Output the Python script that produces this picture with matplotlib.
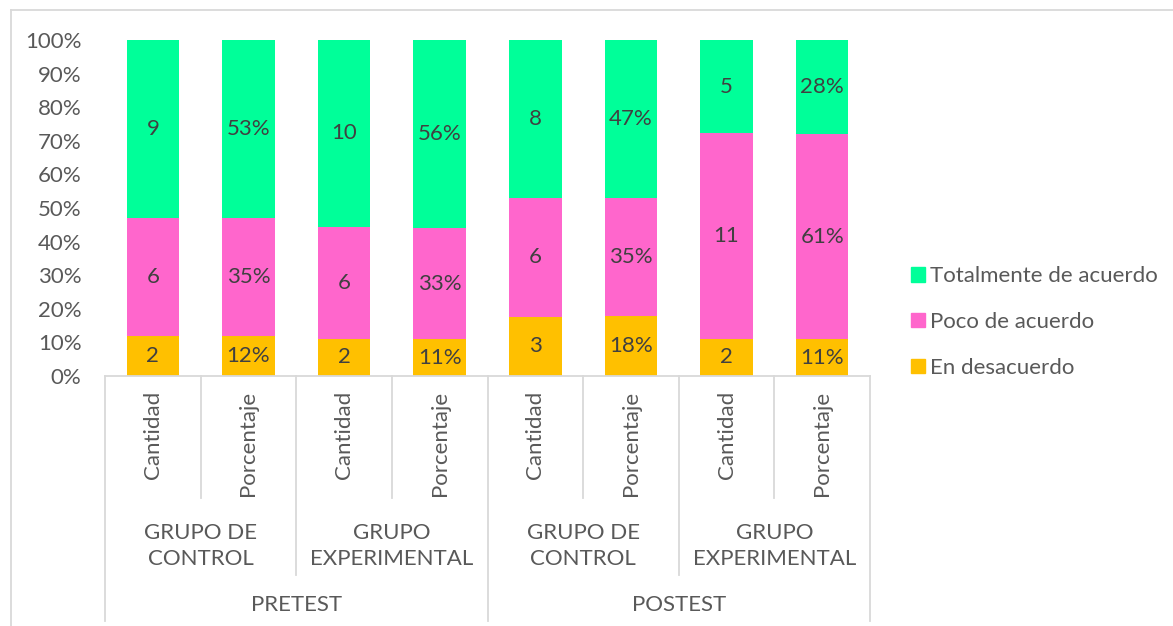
import matplotlib
matplotlib.use("Agg")
import matplotlib.pyplot as plt
from matplotlib.transforms import blended_transform_factory
from matplotlib.patches import Patch

# ---- data ----
leaf_labels = ["Cantidad", "Porcentaje"] * 4
group_labels = ["GRUPO DE\nCONTROL", "GRUPO\nEXPERIMENTAL", "GRUPO DE\nCONTROL", "GRUPO\nEXPERIMENTAL"]
phase_labels = ["PRETEST", "POSTEST"]
series_names = ["En desacuerdo", "Poco de acuerdo", "Totalmente de acuerdo"]
desacuerdo = [2, 12, 2, 11, 3, 18, 2, 11]
poco = [6, 35, 6, 33, 6, 35, 11, 61]
totalmente = [9, 53, 10, 56, 8, 47, 5, 28]
is_pct = [False, True] * 4

colors = ["#FFC000", "#FF66CC", "#00FF99"]
text_c = "#595959"
line_c = "#D9D9D9"
fs = 16

plt.rcParams["font.family"] = ["Lato", "DejaVu Sans"]

W, H = 1173, 626
fig = plt.figure(figsize=(W / 100, H / 100), dpi=100)
x0, x1, y0, y1 = 105, 870, 376, 40
ax = fig.add_axes([x0 / W, 1 - y0 / H, (x1 - x0) / W, (y0 - y1) / H])
ph = y0 - y1  # axes height in px

series = [desacuerdo, poco, totalmente]
n = len(leaf_labels)
xs = list(range(n))
bottoms = [0.0] * n
for vals, col, name in zip(series, colors, series_names):
    fr = []
    for i in range(n):
        tot = desacuerdo[i] + poco[i] + totalmente[i]
        fr.append(vals[i] / tot)
    ax.bar(xs, fr, width=0.55, bottom=bottoms, color=col, edgecolor="none", label=name)
    for i in range(n):
        lab = f"{vals[i]}%" if is_pct[i] else f"{vals[i]}"
        ax.text(xs[i], bottoms[i] + fr[i] / 2, lab, ha="center", va="center",
                fontsize=fs, color="#404040")
    bottoms = [b + f for b, f in zip(bottoms, fr)]

ax.set_xlim(-0.5, n - 0.5)
ax.set_ylim(0, 1)
ax.set_yticks([i / 10 for i in range(11)])
ax.set_yticklabels([f"{i * 10}%" for i in range(11)])
ax.tick_params(axis="y", length=0, pad=17, labelsize=fs, labelcolor=text_c)
ax.set_xticks([])
for s in ["top", "right", "left"]:
    ax.spines[s].set_visible(False)
ax.spines["bottom"].set_color(line_c)
ax.spines["bottom"].set_linewidth(1.3)

tr = blended_transform_factory(ax.transData, ax.transAxes)

def ypx(p):
    return -(p - y0) / ph

# separators
for k in range(n + 1):
    xb = k - 0.5
    if k % 4 == 0:
        bot = 621
    elif k % 2 == 0:
        bot = 575
    else:
        bot = 498
    ax.plot([xb, xb], [0, ypx(bot)], color=line_c, lw=1.3, transform=tr, clip_on=False)

for i, lab in enumerate(leaf_labels):
    ax.text(i, ypx(391), lab, rotation=90, ha="center", va="top", fontsize=fs,
            color=text_c, transform=tr)
for g, lab in enumerate(group_labels):
    ax.text(2 * g + 0.5, ypx(546), lab, ha="center", va="center", fontsize=fs,
            color=text_c, linespacing=1.35, transform=tr)
for p, lab in enumerate(phase_labels):
    ax.text(4 * p + 1.5, ypx(605), lab, ha="center", va="center", fontsize=fs,
            color=text_c, transform=tr)

handles = [Patch(color=c, label=l) for c, l in zip(colors[::-1], series_names[::-1])]
fig.legend(handles=handles, loc="center left", bbox_to_anchor=(900 / W, 1 - 322 / H),
           frameon=False, fontsize=fs, labelcolor=text_c, handlelength=0.62,
           handleheight=0.62, handletextpad=0.25, labelspacing=1.15, borderpad=0)

# outer frame
fig.add_artist(plt.Line2D([11 / W, 11 / W], [0, 1 - 10 / H], color=line_c, lw=1.3))
fig.add_artist(plt.Line2D([11 / W, 1], [1 - 10 / H, 1 - 10 / H], color=line_c, lw=1.3))

fig.savefig("out.png", dpi=100)
